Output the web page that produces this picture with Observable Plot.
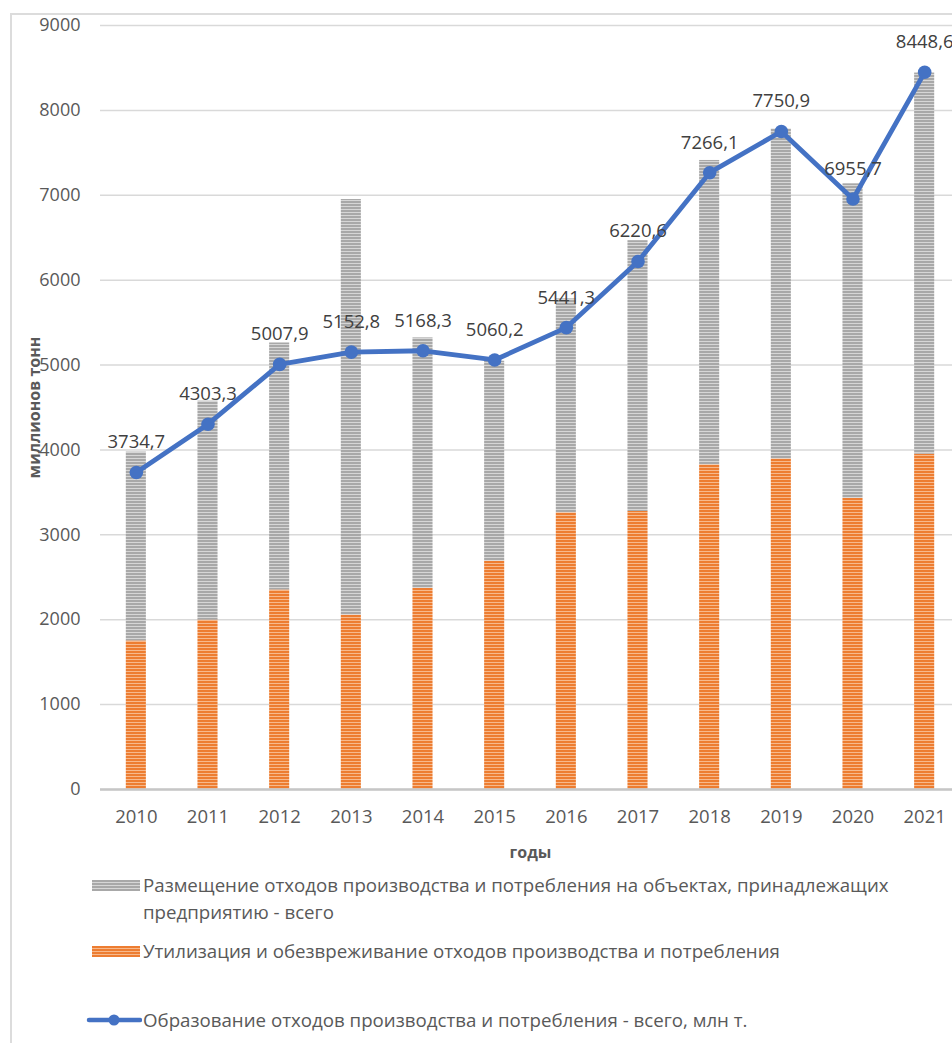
<!DOCTYPE html>
<html>
<head>
<meta charset="utf-8">
<script src="https://cdn.jsdelivr.net/npm/d3@7"></script>
<script src="https://cdn.jsdelivr.net/npm/@observablehq/plot@0.6"></script>
<style>
  html, body { margin: 0; padding: 0; background: #fff; overflow: hidden; width: 952px; height: 1043px; }
  #wrap { position: relative; width: 952px; height: 1043px; overflow: hidden; font-family: "Open Sans", sans-serif; }
  #frame { position: absolute; left: 10px; top: 13px; width: 1000px; height: 1100px; border-left: 2px solid #dcdcdc; border-top: 2px solid #dcdcdc; }
  #chart { position: absolute; left: 0; top: 0; width: 960px; height: 870px; }
  #chart svg { overflow: visible; max-width: none !important; width: 960px; height: 870px; }
  #chart [aria-label="y-axis label"] text, #chart [aria-label="x-axis label"] text { font-weight: bold; font-size: 16px; }
  .leg { position: absolute; color: #595959; font-size: 18.7px; line-height: 27px; white-space: nowrap; }
  .sw { position: absolute; }
</style>
</head>
<body>
<div id="wrap">
  <div id="frame"></div>
  <div id="chart"></div>
  <svg class="sw" style="left:92px;top:880px" width="48" height="11">
    <defs>
      <pattern id="lg" patternUnits="userSpaceOnUse" width="4" height="3"><rect width="4" height="3" fill="#a8a8a8"/><rect y="2" width="4" height="1" fill="#d6d6d6"/></pattern>
    </defs>
    <rect width="48" height="11" fill="url(#lg)"/>
  </svg>
  <div class="leg" style="left:143px;top:871px">Размещение отходов производства и потребления на объектах, принадлежащих<br>предприятию - всего</div>
  <svg class="sw" style="left:92px;top:946px" width="48" height="11">
    <defs>
      <pattern id="lo" patternUnits="userSpaceOnUse" width="4" height="3"><rect width="4" height="3" fill="#ED7D31"/><rect y="2" width="4" height="1" fill="#f7b98c"/></pattern>
    </defs>
    <rect width="48" height="11" fill="url(#lo)"/>
  </svg>
  <div class="leg" style="left:143px;top:937px">Утилизация и обезвреживание отходов производства и потребления</div>
  <svg class="sw" style="left:86px;top:1010px" width="56" height="20">
    <line x1="3" y1="10" x2="54" y2="10" stroke="#4472C4" stroke-width="4.5" stroke-linecap="round"/>
    <circle cx="28" cy="10" r="5.5" fill="#4472C4"/>
  </svg>
  <div class="leg" style="left:143px;top:1006px">Образование отходов производства и потребления - всего, млн т.</div>
</div>
<script>
const years = ["2010","2011","2012","2013","2014","2015","2016","2017","2018","2019","2020","2021"];
const utilization = [1750, 1995, 2350, 2055, 2370, 2690, 3260, 3275, 3825, 3895, 3430, 3950];
const placement = [2225, 2580, 2910, 4895, 2950, 2355, 2520, 3190, 3585, 3885, 3705, 4490];
const generated = [3734.7, 4303.3, 5007.9, 5152.8, 5168.3, 5060.2, 5441.3, 6220.6, 7266.1, 7750.9, 6955.7, 8448.6];
const seriesNames = ["Утилизация и обезвреживание отходов производства и потребления", "Размещение отходов производства и потребления на объектах, принадлежащих предприятию - всего"];
const yTicks = [0, 1000, 2000, 3000, 4000, 5000, 6000, 7000, 8000, 9000];

const barData = [];
years.forEach((y, i) => {
  barData.push({year: y, series: seriesNames[0], value: utilization[i]});
  barData.push({year: y, series: seriesNames[1], value: placement[i]});
});
const lineData = years.map((y, i) => ({year: y, value: generated[i]}));
const fmt = v => v.toFixed(1).replace(".", ",");

const plot = Plot.plot({
  width: 960,
  height: 870,
  marginTop: 25,
  marginBottom: 81,
  marginLeft: 100,
  marginRight: 0,
  style: {fontFamily: "Open Sans, sans-serif", color: "#595959", background: "transparent"},
  x: {domain: years, paddingInner: 0.72, paddingOuter: 0.36, round: false, label: null},
  y: {domain: [0, 9000], label: null},
  color: {domain: seriesNames, range: ["url(#po)", "url(#pg)"]},
  marks: [
    Plot.gridY(yTicks, {stroke: "#d9d9d9", strokeOpacity: 1, strokeWidth: 1.5}),
    Plot.barY(barData, Plot.stackY({x: "year", y: "value", fill: "series", order: seriesNames})),
    Plot.ruleY([0], {stroke: "#c6c6c6", strokeWidth: 2.5}),
    Plot.axisY(yTicks, {tickSize: 0, tickPadding: 20, fontSize: 18, fill: "#595959", tickFormat: d => String(d), label: "миллионов тонн", labelAnchor: "center", labelOffset: 72, labelArrow: "none"}),
    Plot.axisX({tickSize: 0, tickPadding: 20, fontSize: 18.5, fill: "#595959", label: "годы", labelAnchor: "center", labelOffset: 68, labelArrow: "none"}),
    Plot.line(lineData, {x: "year", y: "value", stroke: "#4472C4", strokeWidth: 4.8, strokeLinejoin: "round"}),
    Plot.dot(lineData, {x: "year", y: "value", r: 6.8, fill: "#4472C4"}),
    Plot.text(lineData, {x: "year", y: "value", text: d => fmt(d.value), dy: -30, fontSize: 18.5, fill: "#404040"})
  ]
});

const defs = d3.select(plot).insert("defs", ":first-child");
const pg = defs.append("pattern").attr("id", "pg").attr("patternUnits", "userSpaceOnUse").attr("width", 4).attr("height", 3);
pg.append("rect").attr("width", 4).attr("height", 3).attr("fill", "#a8a8a8");
pg.append("rect").attr("y", 2).attr("width", 4).attr("height", 1).attr("fill", "#d6d6d6");
const po = defs.append("pattern").attr("id", "po").attr("patternUnits", "userSpaceOnUse").attr("width", 4).attr("height", 3);
po.append("rect").attr("width", 4).attr("height", 3).attr("fill", "#ED7D31");
po.append("rect").attr("y", 2).attr("width", 4).attr("height", 1).attr("fill", "#f7b98c");

document.getElementById("chart").appendChild(plot);
</script>
</body>
</html>
